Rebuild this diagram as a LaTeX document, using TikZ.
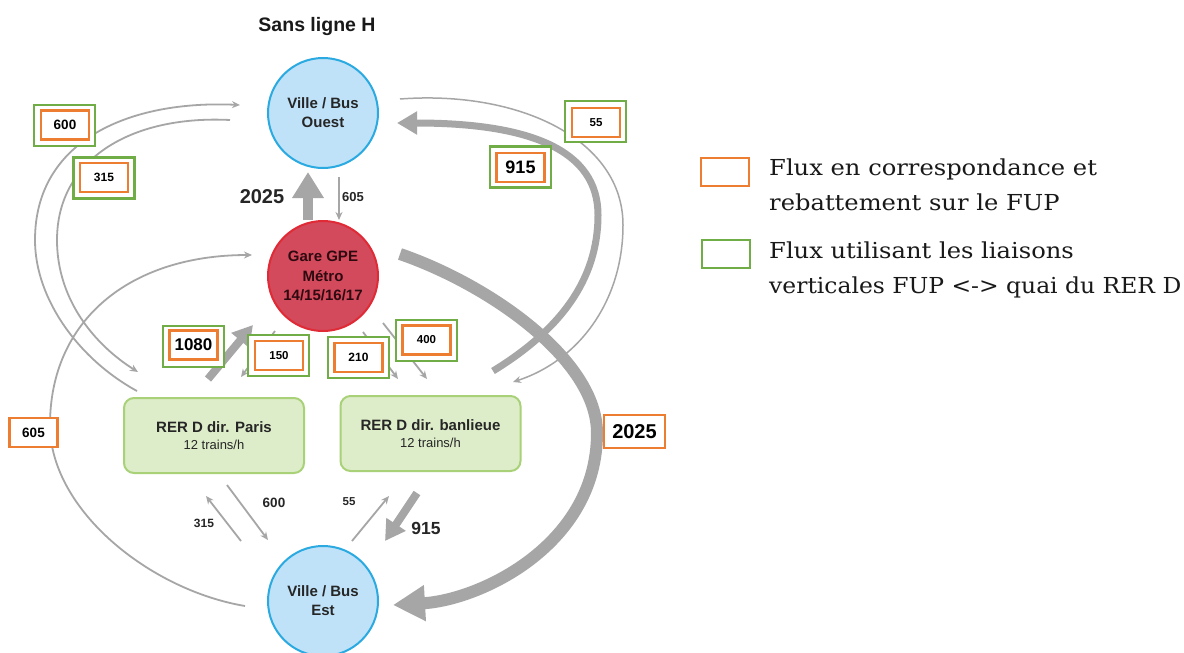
\documentclass[tikz,border=0pt]{standalone}
\usepackage{fontspec}
\setmainfont{Liberation Sans}
\newfontfamily\legfont[FakeStretch=1.1]{DejaVu Serif}
\newfontfamily\legfontb[FakeStretch=1.065]{DejaVu Serif}
\usetikzlibrary{arrows.meta}
\definecolor{flow}{HTML}{A6A6A6}
\definecolor{cblue}{HTML}{BFE2F8}
\definecolor{cblueb}{HTML}{2AAAE0}
\definecolor{gfill}{HTML}{D24A5C}
\definecolor{gborder}{HTML}{E02A36}
\definecolor{gtext}{HTML}{2E0A10}
\definecolor{rfill}{HTML}{DDEDC9}
\definecolor{rborder}{HTML}{A8D178}
\definecolor{lorange}{HTML}{ED7D31}
\definecolor{lgreen}{HTML}{70AD47}
\newcommand\myfs[2]{\fontsize{#1}{#2}\selectfont}
\begin{document}
\begin{tikzpicture}[x=1pt,y=-1pt,
  city/.style={circle,minimum size=110pt,inner sep=0pt,fill=cblue,draw=cblueb,line width=2pt,
    align=center,font=\myfs{15}{19}\bfseries,text=black!85},
  gare/.style={circle,minimum size=110pt,inner sep=0pt,fill=gfill,draw=gborder,line width=2pt,
    align=center,font=\myfs{15}{19.5}\bfseries,text=gtext},
  rer/.style={rectangle,rounded corners=10pt,minimum width=180pt,minimum height=75pt,inner sep=0pt,
    fill=rfill,draw=rborder,line width=2pt,align=center,font=\myfs{15}{17}\bfseries,text=black!85},
  thinflow/.style={draw=flow,line width=1.8pt,-{Stealth[length=8pt,width=7pt]}},
  midflow/.style={draw=flow,line width=7pt,-{Triangle[length=20pt,width=22pt]}},
  bigflow/.style={draw=flow,line width=10pt,-{Triangle[length=26pt,width=30pt]}},
  hugeflow/.style={draw=flow,line width=12pt,-{Triangle[length=32pt,width=34pt]}},
  obox/.style={rectangle,draw=lorange,line width=2.5pt,fill=white,minimum width=48pt,minimum height=29pt,inner sep=0pt},
  gbox/.style={rectangle,draw=lgreen,line width=2.5pt,fill=white,minimum width=61pt,minimum height=41pt,inner sep=0pt},
  lbl/.style={inner sep=0pt,font=\bfseries,text=black!85},
  legtxt/.style={anchor=base west,inner sep=0pt,font=\legfont\myfs{22}{22},text=black!90}
]
\useasboundingbox (0,0) rectangle (1184,653);
\fill[white] (0,0) rectangle (1184,653);

% nodes
\node[city] (ouest) at (323,113) {Ville / Bus\\Ouest};
\node[gare] (gpe) at (323,276) {Gare GPE\\M\'etro\\14/15/16/17};
\node[city] (est) at (323,601) {Ville / Bus\\Est};
\node[rer] (paris) at (214,435.5) {RER D dir. Paris\\{\mdseries\myfs{13}{15}12 trains/h}};
\node[rer] (banl) at (430.5,433.5) {RER D dir. banlieue\\{\mdseries\myfs{13}{15}12 trains/h}};
\node[anchor=base,inner sep=0pt,font=\myfs{19.5}{20}\bfseries,text=black!90] (title) at (317,31) {Sans ligne H};

% long curves
\draw[hugeflow] ([shift={(77,-22)}]gpe.center) .. controls (490,285) and (597,360) .. (597,433)
   .. controls (597,545) and (480,600) .. ([shift={(70,4)}]est.center);
\draw[midflow] ([shift={(62.5,-24)}]banl.north) .. controls (560,330) and (598,280) .. (598,215)
   .. controls (598,150) and (530,123) .. ([shift={(74,10)}]ouest.center);
\draw[thinflow,line width=1.5pt] ([shift={(77,-14)}]ouest.center) .. controls (520,90) and (623,140) .. (623,225)
   .. controls (623,300) and (580,360) .. ([shift={(82.5,-13)}]banl.north);
\draw[thinflow] ([shift={(-77,-6)}]paris.north) .. controls (80,360) and (35,300) .. (35,240)
   .. controls (35,140) and (130,100) .. ([shift={(-83,-8)}]ouest.center);
\draw[thinflow] ([shift={(-93,7)}]ouest.center) .. controls (130,115) and (57,160) .. (57,240)
   .. controls (57,300) and (95,345) .. ([shift={(-76,-25)}]paris.north);
\draw[thinflow] ([shift={(-78,5)}]est.center) .. controls (150,590) and (50,510) .. (50,425)
   .. controls (50,320) and (130,255) .. ([shift={(-71,-21)}]gpe.center);

% straight flows
\draw[bigflow] ([xshift=-15pt]gpe.north) -- ([shift={(-15,59)}]ouest.center);
\draw[thinflow] ([shift={(16,64)}]ouest.center) -- ([shift={(16,-56)}]gpe.center);
\draw[midflow,line width=8pt] ([shift={(-6,-18)}]paris.north) -- ([shift={(-70,49)}]gpe.center);
\draw[thinflow] ([shift={(-48,55)}]gpe.center) -- ([shift={(27,-20)}]paris.north);
\draw[thinflow] ([shift={(40,56)}]gpe.center) -- ([shift={(-32.5,-16)}]banl.north);
\draw[thinflow] ([shift={(60,47)}]gpe.center) -- ([shift={(-3.5,-16)}]banl.north);
\draw[thinflow] ([shift={(-82,-60)}]est.center) -- ([shift={(-8,22)}]paris.south);
\draw[thinflow] ([shift={(13,11)}]paris.south) -- ([shift={(-55,-61)}]est.center);
\draw[thinflow] ([shift={(29,-60)}]est.center) -- ([shift={(-41.5,24)}]banl.south);
\draw[midflow,line width=8pt] ([shift={(-13.5,21)}]banl.south) -- ([shift={(62,-60)}]est.center);

% plain labels
\node[lbl,font=\myfs{20}{20}\bfseries] (l2025a) at (262,197) {2025};
\node[lbl,font=\myfs{13}{13}\bfseries] (l605a) at (353,197) {605};
\node[lbl,font=\myfs{12}{12}\bfseries] (l315b) at (204,523) {315};
\node[lbl,font=\myfs{13.5}{13}\bfseries] (l600b) at (274,503) {600};
\node[lbl,font=\myfs{11.5}{12}\bfseries] (l55b) at (349,502) {55};
\node[lbl,font=\myfs{17.5}{18}\bfseries] (l915b) at (426,528) {915};

% boxed labels
\node[gbox] (g600) at (64.5,125.5) {};
\node[obox,font=\myfs{13.5}{14}\bfseries] (o600) at (65,125) {600};
\node[gbox] (g315) at (104,178) {};
\node[obox,font=\myfs{12}{12}\bfseries] (o315) at (104,177.5) {315};
\node[gbox] (g55) at (595.5,121.5) {};
\node[obox,font=\myfs{11.5}{12}\bfseries] (o55) at (596,122.5) {55};
\node[gbox] (g915) at (520.5,167) {};
\node[obox,font=\myfs{18}{18}\bfseries] (o915) at (520.5,167.5) {915};
\node[gbox] (g1080) at (193.5,346.5) {};
\node[obox,font=\myfs{17}{17}\bfseries] (o1080) at (193.5,345) {1080};
\node[gbox] (g150) at (278.5,355.5) {};
\node[obox,font=\myfs{11.5}{12}\bfseries] (o150) at (279,355.5) {150};
\node[gbox] (g210) at (358.5,357.5) {};
\node[obox,font=\myfs{12}{12}\bfseries] (o210) at (358.5,357.5) {210};
\node[gbox] (g400) at (426.5,340.5) {};
\node[obox,font=\myfs{11.5}{12}\bfseries] (o400) at (426.5,340) {400};
\node[obox,font=\myfs{13.5}{14}\bfseries] (o605) at (33.5,432.5) {605};
\node[obox,minimum width=61pt,minimum height=33pt,font=\myfs{20}{20}\bfseries] (o2025) at (634.5,431.5) {2025};

% legend
\node[obox,minimum width=48pt,minimum height=28pt] (legO) at (725,172) {};
\node[gbox,minimum width=48pt,minimum height=28pt] (legG) at (726,254) {};
\node[legtxt] (legO1) at (769,175) {Flux en correspondance et};
\node[legtxt] (legO2) at (769,210) {rebattement sur le FUP};
\node[legtxt] (legG1) at (769,258) {Flux utilisant les liaisons};
\node[legtxt,font=\legfontb\myfs{22}{22}] (legG2) at (769,293) {verticales FUP <-> quai du RER D};
\end{tikzpicture}
\end{document}
